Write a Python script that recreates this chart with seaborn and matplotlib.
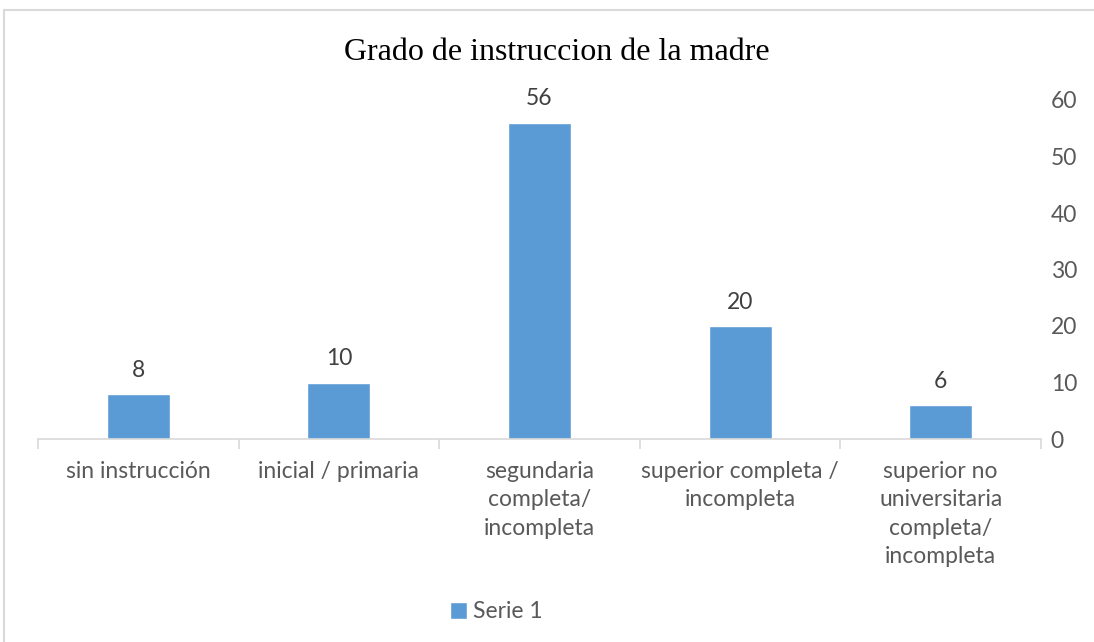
import matplotlib
matplotlib.use("Agg")
import matplotlib.pyplot as plt
import seaborn as sns
import pandas as pd
from matplotlib.patches import Rectangle

categories = ["sin instrucción", "inicial / primaria", "segundaria\ncompleta/\nincompleta",
              "superior completa /\nincompleta", "superior no\nuniversitaria\ncompleta/\nincompleta"]
values = [8, 10, 56, 20, 6]
y_ticks = [0, 10, 20, 30, 40, 50, 60]
series_name = "Serie 1"
title = "Grado de instruccion de la madre"

BLUE = "#5B9BD5"
GRID = "#D9D9D9"
TXT = "#595959"
FS = 16.5

sns.set_theme(style="white")
plt.rcParams["font.family"] = ["Lato", "DejaVu Sans"]

W, H = 1094, 642
fig = plt.figure(figsize=(W / 100, H / 100), dpi=100)
ax = fig.add_axes([38 / W, (H - 439) / H, (1041 - 38) / W, (439 - 100) / H])

df = pd.DataFrame({"cat": categories, "val": values})
sns.barplot(data=df, x="cat", y="val", color=BLUE, width=0.315, saturation=1,
            label=series_name, ax=ax)

ax.set_xlim(-0.5, len(categories) - 0.5)
ax.set_ylim(0, 60)
ax.set_xlabel("")
ax.set_ylabel("")

# value labels
for i, v in enumerate(values):
    ax.annotate(str(v), (i, v), xytext=(0, 17), textcoords="offset points",
                ha="center", va="center", fontsize=FS, color="#404040")

# y axis on the right, no line, no ticks
ax.yaxis.tick_right()
ax.set_yticks(y_ticks)
ax.tick_params(axis="y", length=0, pad=7, labelsize=FS, labelcolor=TXT)
for lab in ax.get_yticklabels():
    lab.set_horizontalalignment("left")

# x axis: labels centered, tick marks at category borders
ax.set_xticks(range(len(categories)))
ax.set_xticklabels(categories)
ax.tick_params(axis="x", which="major", length=0, pad=16, labelsize=FS, labelcolor=TXT)
for lab in ax.get_xticklabels():
    lab.set_verticalalignment("top")
    lab.set_linespacing(1.42)
ax.set_xticks([i - 0.5 for i in range(len(categories) + 1)], minor=True)
ax.tick_params(axis="x", which="minor", length=7, width=1.2, color=GRID, bottom=True)

for s in ["top", "right", "left"]:
    ax.spines[s].set_visible(False)
ax.spines["bottom"].set_color(GRID)
ax.spines["bottom"].set_linewidth(1.2)

fig.text(557 / W, 1 - 53 / H, title, ha="center", va="center",
         fontsize=23, family=["Liberation Serif"], color="black")

ax.legend(loc="center", bbox_to_anchor=(496 / W, 1 - 612 / H), bbox_transform=fig.transFigure,
          frameon=False, fontsize=FS, labelcolor=TXT, handlelength=0.75, handleheight=0.75,
          handletextpad=0.25)

fig.patches.append(Rectangle((4 / W, -0.05), 1.0, 1.05 - 10 / H, transform=fig.transFigure,
                             fill=False, edgecolor=GRID, linewidth=1.5))

fig.savefig("out.png", dpi=100, facecolor="white")
